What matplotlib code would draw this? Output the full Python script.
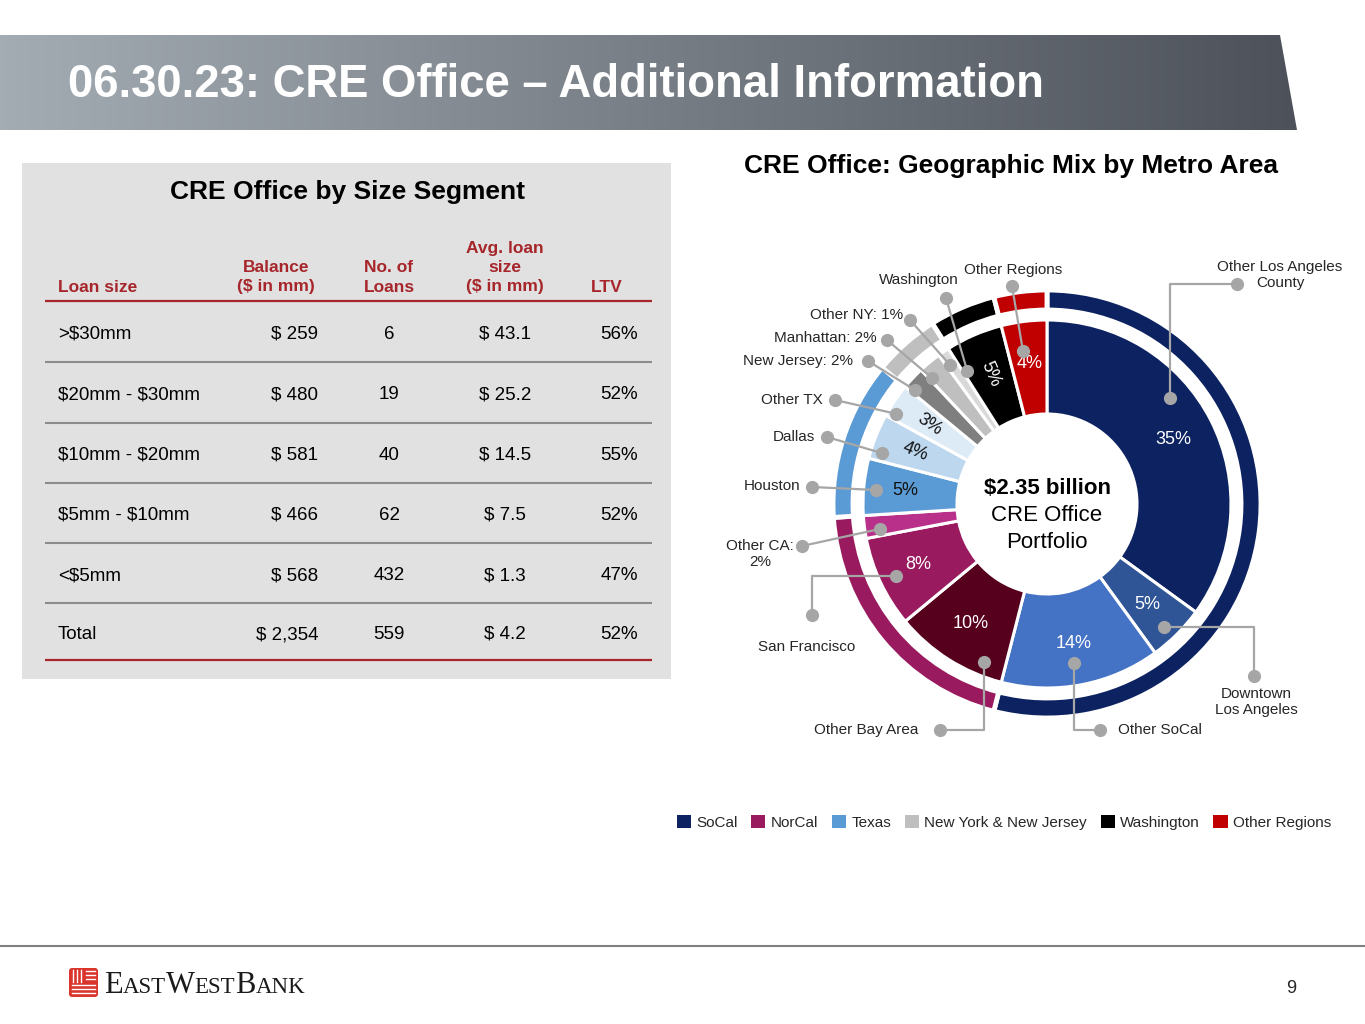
import numpy as np
import matplotlib
matplotlib.use('Agg')
import matplotlib.pyplot as plt
from matplotlib.patches import Polygon, Rectangle, FancyBboxPatch, Patch

plt.rcParams['font.family'] = ['Liberation Sans', 'DejaVu Sans']
plt.rcParams['text.parse_math'] = False

# ---------------- data ----------------
page_title = "06.30.23: CRE Office \u2013 Additional Information"
table_title = "CRE Office by Size Segment"
table_headers = ["Loan size", "Balance\n($ in mm)", "No. of\nLoans", "Avg. loan\nsize\n($ in mm)", "LTV"]
loan_sizes = [">$30mm", "$20mm - $30mm", "$10mm - $20mm", "$5mm - $10mm", "<$5mm", "Total"]
balances = [259, 480, 581, 466, 568, 2354]
num_loans = [6, 19, 40, 62, 432, 559]
avg_loan = [43.1, 25.2, 14.5, 7.5, 1.3, 4.2]
ltv = [56, 52, 55, 52, 47, 52]

chart_title = "CRE Office: Geographic Mix by Metro Area"
metro_areas = ["Other Los Angeles\nCounty", "Downtown\nLos Angeles", "Other SoCal", "Other Bay Area",
               "San Francisco", "Other CA:\n2%", "Houston", "Dallas", "Other TX",
               "New Jersey: 2%", "Manhattan: 2%", "Other NY: 1%", "Washington", "Other Regions"]
metro_pct = [35, 5, 14, 10, 8, 2, 5, 4, 3, 2, 2, 1, 5, 4]
regions = ["SoCal", "NorCal", "Texas", "New York & New Jersey", "Washington", "Other Regions"]
region_pct = [54, 20, 12, 5, 5, 4]
center_lines = ["$2.35 billion", "CRE Office", "Portfolio"]
page_number = "9"

# ---------------- styles ----------------
metro_colors = ['#0c2261', '#2f5597', '#4472c4', '#56001e', '#9a1a5f', '#b9308a',
                '#5b9bd5', '#bdd7ee', '#ddebf7', '#7f7f7f', '#bfbfbf', '#d9d9d9',
                '#000000', '#c00000']
region_colors = ['#0c2261', '#9a1a5f', '#5b9bd5', '#bfbfbf', '#000000', '#c00000']
pct_show = [1, 1, 1, 1, 1, 0, 1, 1, 1, 0, 0, 0, 1, 1]
pct_dark = [0, 0, 0, 0, 0, 0, 1, 1, 1, 0, 0, 0, 0, 0]
pct_rotate = [0, 0, 0, 0, 0, 0, 0, 1, 1, 0, 0, 0, 1, 0]

# callout layout: (t along wedge, radius px, route, end point px, label point px, ha)
callouts = [
    (0.39, 162, 'v', (1237, 284), (1280, 275), 'center'),
    (0.58, 170, 'h', (1254, 676), (1256, 702), 'center'),
    (0.52, 161, 'v', (1100, 730), (1118, 730), 'left'),
    (0.20, 170, 'v', (940, 730), (918, 730), 'right'),
    (0.49, 167, 'h', (812, 615), (807, 647), 'center'),
    (0.32, 169, 's', (802, 546), (760, 554), 'center'),
    (0.46, 172, 's', (812, 487), (800, 486), 'right'),
    (0.19, 173, 's', (827, 437), (815, 437), 'right'),
    (0.19, 176, 's', (835, 400), (823, 400), 'right'),
    (0.17, 174, 's', (868, 361), (853, 361), 'right'),
    (0.11, 171, 's', (887, 340), (877, 338), 'right'),
    (0.30, 170, 's', (910, 320), (903, 315), 'right'),
    (0.08, 155, 's', (946, 298), (919, 280), 'center'),
    (0.38, 155, 's', (1012, 286), (1013, 270), 'center'),
]

W, H = 1365, 1024
fig = plt.figure(figsize=(W / 100, H / 100), dpi=100)
ax = fig.add_axes([0, 0, 1, 1])


def Y(y):
    return H - y


def setlims():
    ax.set_xlim(0, W)
    ax.set_ylim(0, H)
    ax.set_aspect('auto')
    ax.axis('off')


setlims()

# ---------------- title bar ----------------
grad = np.linspace(0, 1, 256)[None, :]
c0 = np.array([0xa3, 0xab, 0xb3]) / 255
c1 = np.array([0x4d, 0x52, 0x5a]) / 255
img = c0[None, None, :] * (1 - grad[..., None]) + c1[None, None, :] * grad[..., None]
bar = Polygon([(0, Y(35)), (1280, Y(35)), (1297, Y(130)), (0, Y(130))], closed=True,
              facecolor='none', edgecolor='none')
ax.add_patch(bar)
im = ax.imshow(img, extent=[0, 1297, Y(130), Y(35)], aspect='auto', zorder=1)
im.set_clip_path(bar)
ax.text(68, Y(97), page_title, color='white', fontsize=32.8, fontweight='bold',
        ha='left', va='baseline', zorder=3)

# ---------------- table ----------------
ax.add_patch(Rectangle((22, Y(679)), 649, 679 - 163, facecolor='#e1e1e1', edgecolor='none', zorder=1))
ax.text(348, Y(199.5), table_title, fontsize=19, fontweight='bold', ha='center',
        va='baseline', color='black', zorder=3)
red = '#a6262b'
col_x = [58, 276, 389, 505, 607]
col_ha = ['left', 'center', 'center', 'center', 'center']
for hx, hha, htxt in zip(col_x, col_ha, table_headers):
    ax.text(hx, Y(294.5), htxt, fontsize=12.5, fontweight='bold', color=red, ha=hha,
            va='bottom', multialignment='center', linespacing=1.37, zorder=3)
ax.plot([45, 652], [Y(301), Y(301)], color=red, lw=1.6, zorder=3, solid_capstyle='butt')
ax.plot([45, 652], [Y(660), Y(660)], color=red, lw=1.6, zorder=3, solid_capstyle='butt')
row_y0, row_step = 332, 60.3
for i in range(len(loan_sizes)):
    ry = row_y0 + i * row_step if i < len(loan_sizes) - 1 else 632
    b = Y(ry + 7)
    ax.text(58, b, loan_sizes[i], fontsize=13.5, ha='left', va='baseline', zorder=3)
    ax.text(318, b, f"$ {balances[i]:,}", fontsize=13.5, ha='right', va='baseline', zorder=3)
    ax.text(389, b, f"{num_loans[i]}", fontsize=13.5, ha='center', va='baseline', zorder=3)
    ax.text(505, b, f"$ {avg_loan[i]:.1f}", fontsize=13.5, ha='center', va='baseline', zorder=3)
    ax.text(638, b, f"{ltv[i]}%", fontsize=13.5, ha='right', va='baseline', zorder=3)
    if i < len(loan_sizes) - 1:
        sy = row_y0 + i * row_step + 30.2
        ax.plot([45, 652], [Y(sy), Y(sy)], color='#8c8c8c', lw=1.5, zorder=3,
                solid_capstyle='butt')

# ---------------- donut ----------------
ax.text(1011, Y(173.5), chart_title, fontsize=19, fontweight='bold', ha='center',
        va='baseline', zorder=3)
cx, cy = 1047, Y(504)
w_in, _ = ax.pie(metro_pct, radius=184, center=(cx, cy), startangle=90, counterclock=False,
                 colors=metro_colors,
                 wedgeprops=dict(width=94, edgecolor='white', linewidth=2.2))
w_out, _ = ax.pie(region_pct, radius=214, center=(cx, cy), startangle=90, counterclock=False,
                  colors=region_colors,
                  wedgeprops=dict(width=20, edgecolor='white', linewidth=3.5))
setlims()

for w, v, sh, dk, rot in zip(w_in, metro_pct, pct_show, pct_dark, pct_rotate):
    if not sh:
        continue
    mid = 0.5 * (w.theta1 + w.theta2)
    a = np.radians(mid)
    x, y = cx + 142 * np.cos(a), cy + 142 * np.sin(a)
    r = (mid - 180) if rot else 0
    ax.text(x, y, f"{v}%", fontsize=13, color='#111111' if dk else 'white',
            ha='center', va='center', rotation=r, rotation_mode='anchor', zorder=4)

ax.text(cx, Y(494), center_lines[0], fontsize=16, fontweight='bold', ha='center', va='baseline', zorder=4)
ax.text(cx, Y(521), center_lines[1], fontsize=16, ha='center', va='baseline', zorder=4)
ax.text(cx, Y(548), center_lines[2], fontsize=16, ha='center', va='baseline', zorder=4)

gray = '#a6a6a6'
for w, name, (t, rr, route, end, lab, ha) in zip(w_in, metro_areas, callouts):
    ang = np.radians(w.theta2 - t * (w.theta2 - w.theta1))
    axp, ayp = cx + rr * np.cos(ang), cy + rr * np.sin(ang)
    ex, ey = end[0], Y(end[1])
    if route == 'v':
        pts = [(axp, ayp), (axp, ey), (ex, ey)]
    elif route == 'h':
        pts = [(axp, ayp), (ex, ayp), (ex, ey)]
    else:
        pts = [(axp, ayp), (ex, ey)]
    px, py = zip(*pts)
    ax.plot(px, py, color=gray, lw=1.6, zorder=5, solid_capstyle='butt')
    ax.plot([axp, ex], [ayp, ey], linestyle='none', marker='o', ms=9.5, color=gray,
            mec='none', zorder=6)
    ax.text(lab[0], Y(lab[1]), name, fontsize=11, color='#262626', ha=ha, va='center',
            multialignment='center', linespacing=1.15, zorder=6)

handles = [Patch(facecolor=c, edgecolor='none') for c in region_colors]
ax.legend(handles, regions, loc='center', bbox_to_anchor=(1004 / W, Y(822.5) / H),
          ncol=6, frameon=False, fontsize=11, handlelength=0.92, handleheight=0.92,
          handletextpad=0.35, columnspacing=0.9, labelcolor='#262626')

# ---------------- footer ----------------
ax.plot([0, W], [Y(946), Y(946)], color='#808080', lw=1.5, zorder=3)
ax.add_patch(FancyBboxPatch((69, Y(997)), 29, 29, boxstyle='round,pad=0,rounding_size=3',
                            facecolor='#d9352b', edgecolor='none', zorder=3))
for k in range(3):
    xx = 73 + k * 4
    ax.plot([xx, xx], [Y(970), Y(982)], color='white', lw=1.0, zorder=4)
    yy = 971 + k * 4
    ax.plot([86, 95], [Y(yy), Y(yy)], color='white', lw=1.0, zorder=4)
    yy2 = 985 + k * 4
    ax.plot([72, 95], [Y(yy2), Y(yy2)], color='white', lw=1.0, zorder=4)

fig.canvas.draw()
rend = fig.canvas.get_renderer()
logo_parts = [("E", 22), ("AST", 16.5), ("W", 22), ("EST", 16.5), ("B", 22), ("ANK", 16.5)]
lx = 104
for s, fs in logo_parts:
    tt = ax.text(lx, Y(993), s, fontsize=fs, family='Liberation Serif', ha='left',
                 va='baseline', color='#1a1a1a', zorder=4)
    bb = tt.get_window_extent(renderer=rend)
    lx = ax.transData.inverted().transform((bb.x1, bb.y0))[0]

ax.text(1291, Y(993), page_number, fontsize=13, ha='center', va='baseline', color='#262626')

fig.savefig('out.png', dpi=100)
